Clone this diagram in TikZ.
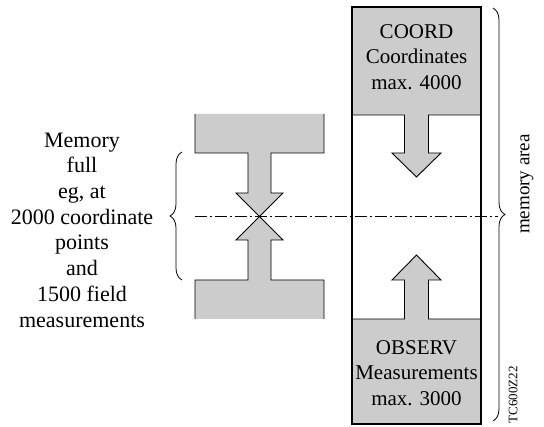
\documentclass[tikz,border=0pt]{standalone}
\usepackage{fontspec}
\setmainfont{Liberation Serif}
\usetikzlibrary{decorations.pathreplacing}
\definecolor{panelgray}{HTML}{CCCCCC}
\tikzset{
  lbl/.style={align=center, inner sep=0pt, font=\fontsize{21}{25.5}\selectfont},
  shapeline/.style={draw=black, line width=0.9pt, line join=miter},
  boxline/.style={draw=black, line width=1.6pt},
  bracestyle/.style={draw=black, line width=0.8pt, decorate, decoration={brace, amplitude=12pt}},
  axisline/.style={draw=black, line width=0.7pt, dash pattern=on 12pt off 3pt on 2pt off 3pt}
}
\begin{document}
\begin{tikzpicture}[x=1pt, y=-1pt]
\useasboundingbox (0,0) rectangle (544,427);
% left I-shape (top half)
\fill[panelgray] (195,114) -- (195,153) -- (248,153) -- (248,193) -- (236,193) -- (259.5,216.5) -- (283,193) -- (271,193) -- (271,153) -- (324,153) -- (324,114) -- cycle;
\draw[shapeline] (195,114) -- (195,153) -- (248,153) -- (248,193) -- (236,193) -- (259.5,216.5) -- (283,193) -- (271,193) -- (271,153) -- (324,153) -- (324,114);
% left I-shape (bottom half)
\fill[panelgray] (195,319) -- (195,280) -- (248,280) -- (248,240) -- (236,240) -- (259.5,216.5) -- (283,240) -- (271,240) -- (271,280) -- (324,280) -- (324,319) -- cycle;
\draw[shapeline] (195,319) -- (195,280) -- (248,280) -- (248,240) -- (236,240) -- (259.5,216.5) -- (283,240) -- (271,240) -- (271,280) -- (324,280) -- (324,319);
% right memory box: top region with arrow
\filldraw[fill=panelgray, shapeline] (352,7) -- (481,7) -- (481,115) -- (428.5,115) -- (428.5,153) -- (441,153) -- (416.5,177) -- (392,153) -- (404.5,153) -- (404.5,115) -- (352,115) -- cycle;
% bottom region with arrow
\filldraw[fill=panelgray, shapeline] (352,424) -- (481,424) -- (481,319) -- (428.5,319) -- (428.5,280) -- (441,280) -- (416.5,255) -- (392,280) -- (404.5,280) -- (404.5,319) -- (352,319) -- cycle;
\draw[boxline] (352,7) rectangle (481,424);
% centre line
\coordinate (cl) at (195,216.5);
\coordinate (cr) at (498,216.5);
\draw[axisline] (cl) -- (cr);
% braces
\coordinate (rbt) at (493,8);
\coordinate (rbb) at (493,421);
\draw[bracestyle] (rbt) -- (rbb);
\coordinate (lbb) at (182,280);
\coordinate (lbt) at (182,152);
\draw[bracestyle] (lbb) -- (lbt);
% texts
\node[lbl, font=\fontsize{22}{25.7}\selectfont] (memfull) at (82,230) {Memory\\full\\eg, at\\2000 coordinate\\points\\and\\1500 field\\measurements};
\node[lbl] (coord) at (416.5,57) {COORD\\Coordinates\\max. 4000};
\node[lbl] (observ) at (416.5,373) {OBSERV\\Measurements\\max. 3000};
\node[lbl, rotate=90, font=\fontsize{19}{23}\selectfont] (memarea) at (527,184) {memory area};
\node[inner sep=0pt, rotate=90, font=\fontsize{13}{15}\selectfont] (tc) at (513,395) {TC600Z22};
\end{tikzpicture}
\end{document}
